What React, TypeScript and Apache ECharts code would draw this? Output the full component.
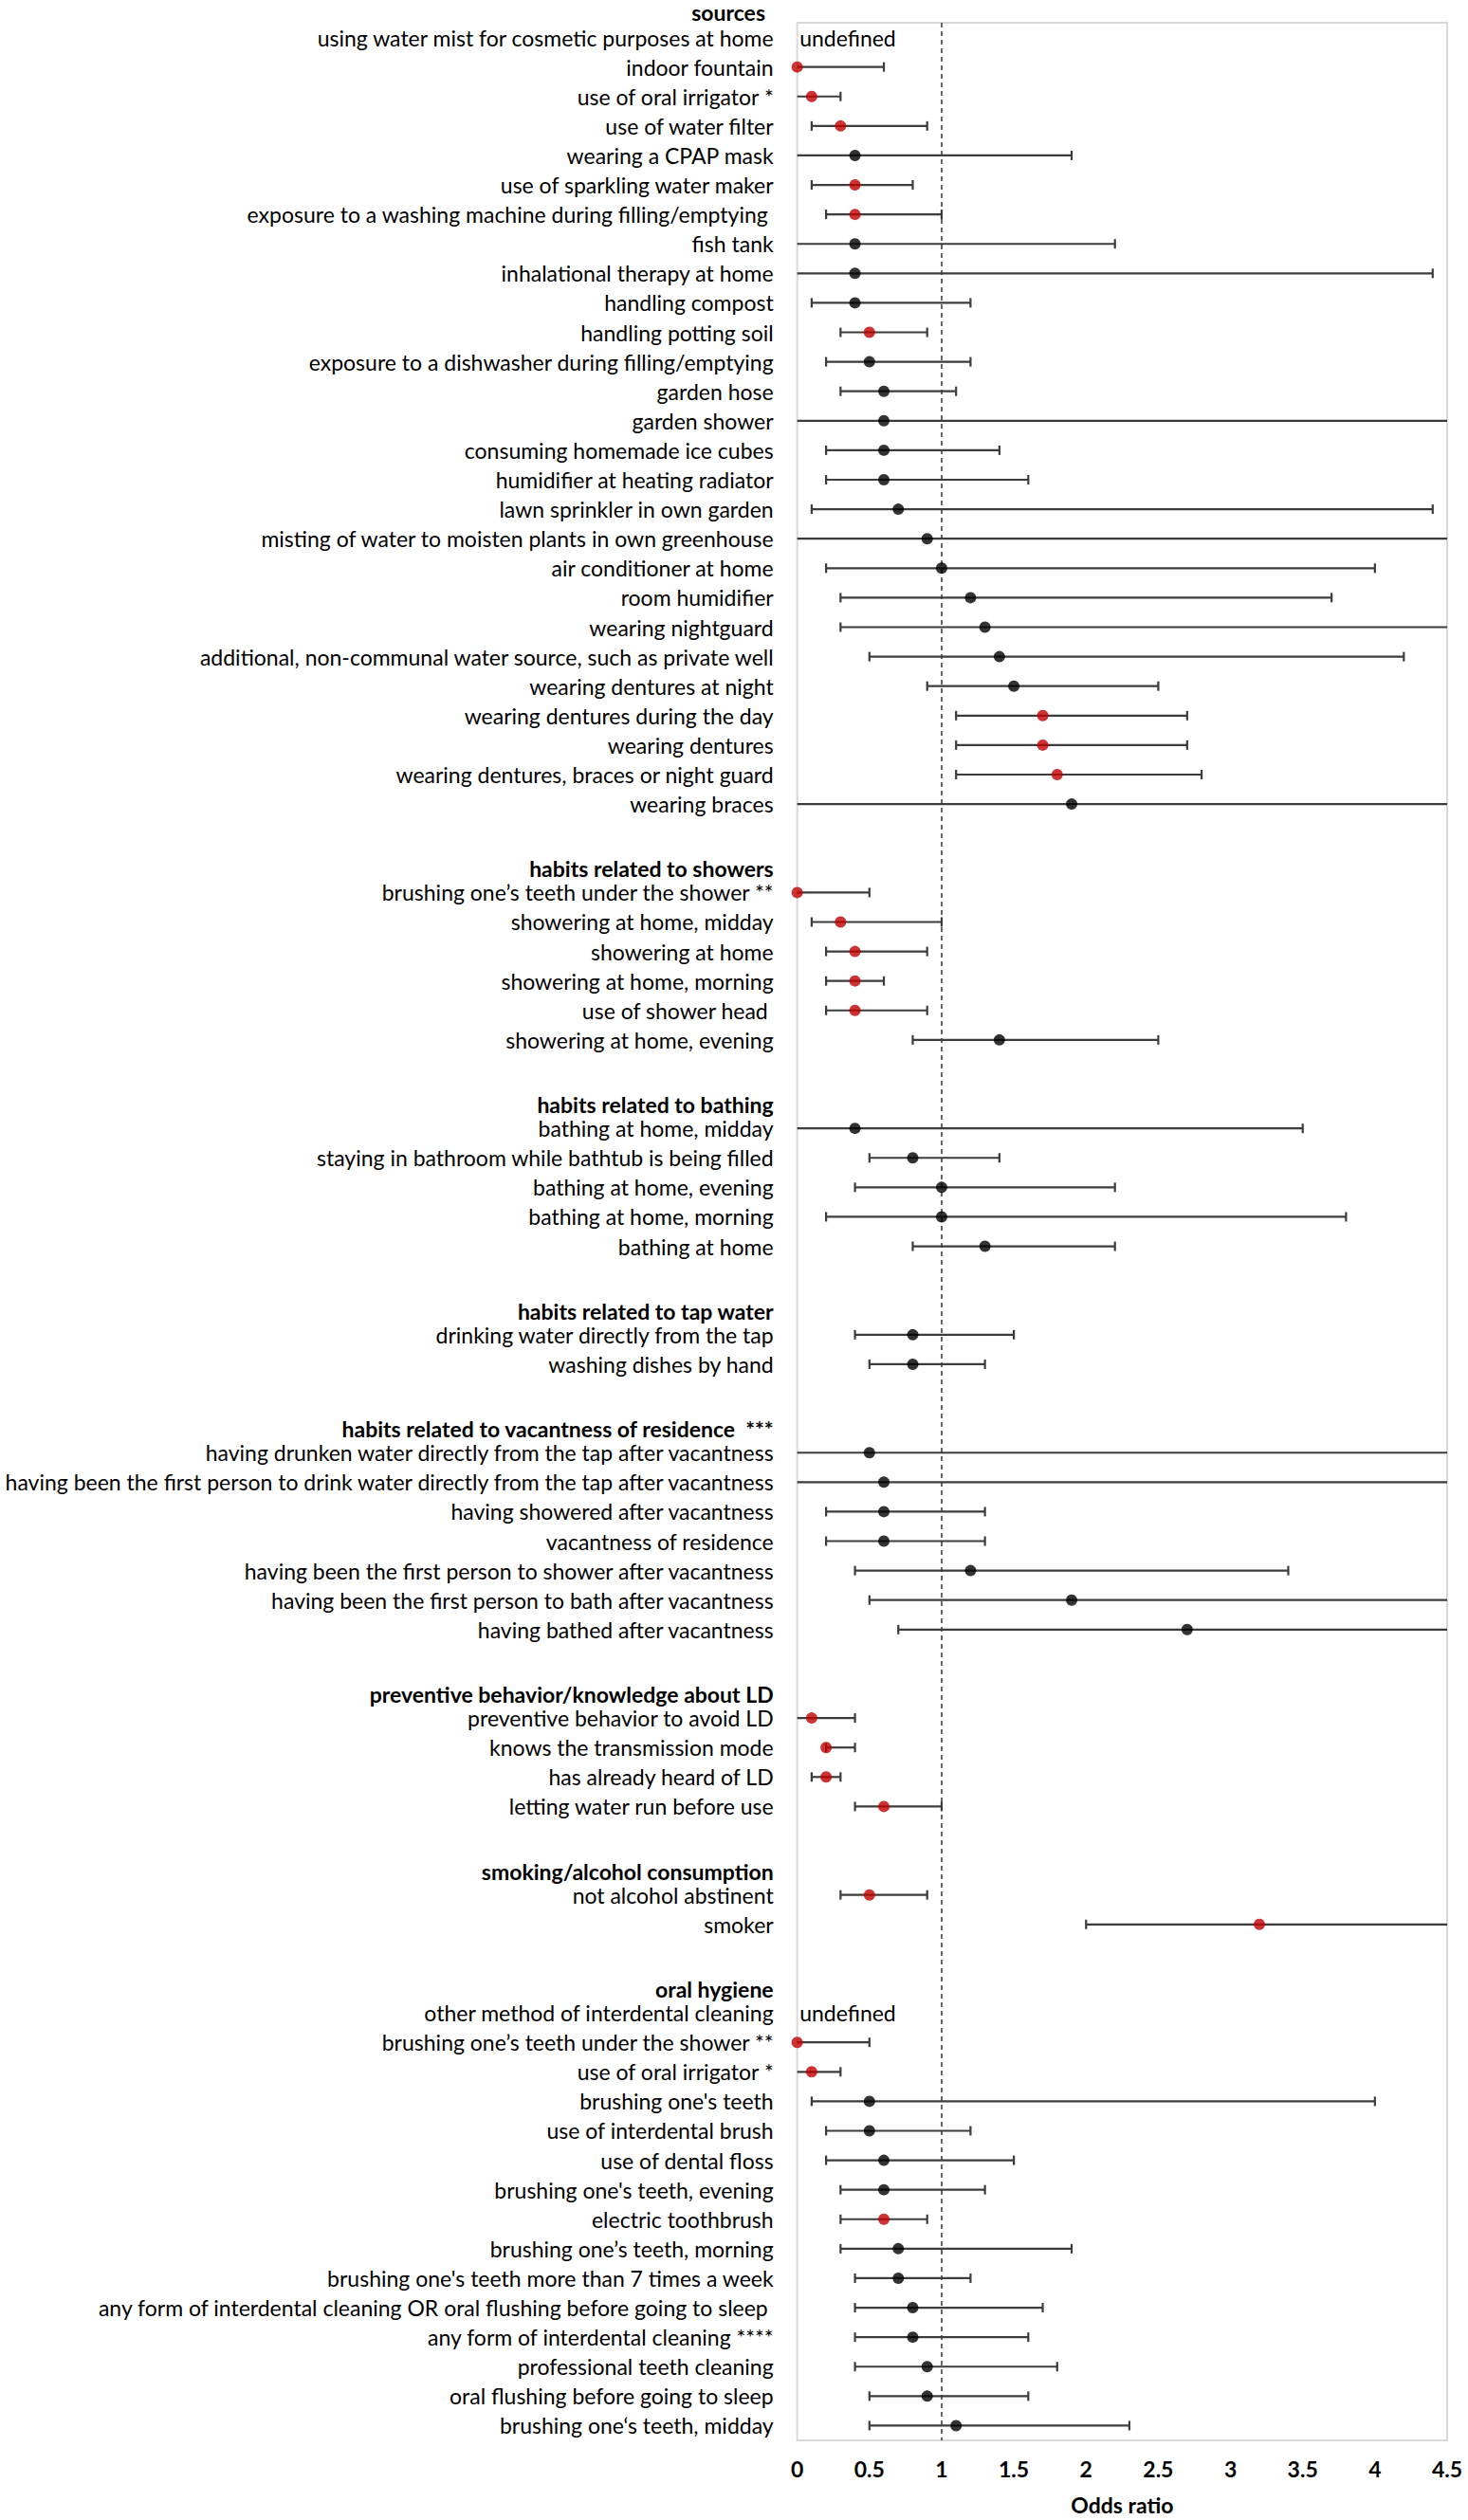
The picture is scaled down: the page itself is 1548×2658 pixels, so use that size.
import React, { useEffect, useRef } from "react";
import * as echarts from "echarts";

// ---- data (rows from top to bottom) ----
const categories: string[] = [
  "using water mist for cosmetic purposes at home",
  "indoor fountain",
  "use of oral irrigator *",
  "use of water filter",
  "wearing a CPAP mask",
  "use of sparkling water maker",
  "exposure to a washing machine during filling/emptying ",
  "fish tank",
  "inhalational therapy at home",
  "handling compost",
  "handling potting soil",
  "exposure to a dishwasher during filling/emptying",
  "garden hose",
  "garden shower",
  "consuming homemade ice cubes",
  "humidifier at heating radiator",
  "lawn sprinkler in own garden",
  "misting of water to moisten plants in own greenhouse",
  "air conditioner at home",
  "room humidifier",
  "wearing nightguard",
  "additional, non-communal water source, such as private well",
  "wearing dentures at night",
  "wearing dentures during the day",
  "wearing dentures",
  "wearing dentures, braces or night guard",
  "wearing braces",
  "",
  "habits related to showers",
  "brushing one\u2019s teeth under the shower **",
  "showering at home, midday",
  "showering at home",
  "showering at home, morning",
  "use of shower head ",
  "showering at home, evening",
  "",
  "habits related to bathing",
  "bathing at home, midday",
  "staying in bathroom while bathtub is being filled",
  "bathing at home, evening",
  "bathing at home, morning",
  "bathing at home",
  "",
  "habits related to tap water",
  "drinking water directly from the tap",
  "washing dishes by hand",
  "",
  "habits related to vacantness of residence  ***",
  "having drunken water directly from the tap after vacantness",
  "having been the first person to drink water directly from the tap after vacantness",
  "having showered after vacantness",
  "vacantness of residence",
  "having been the first person to shower after vacantness",
  "having been the first person to bath after vacantness",
  "having bathed after vacantness",
  "",
  "preventive behavior/knowledge about LD",
  "preventive behavior to avoid LD",
  "knows the transmission mode",
  "has already heard of LD",
  "letting water run before use",
  "",
  "smoking/alcohol consumption",
  "not alcohol abstinent",
  "smoker",
  "",
  "oral hygiene",
  "other method of interdental cleaning",
  "brushing one\u2019s teeth under the shower **",
  "use of oral irrigator *",
  "brushing one's teeth",
  "use of interdental brush",
  "use of dental floss",
  "brushing one's teeth, evening",
  "electric toothbrush",
  "brushing one\u2019s teeth, morning",
  "brushing one's teeth more than 7 times a week",
  "any form of interdental cleaning OR oral flushing before going to sleep ",
  "any form of interdental cleaning ****",
  "professional teeth cleaning",
  "oral flushing before going to sleep",
  "brushing one\u2018s teeth, midday",
];

const topHeader = "sources";

const groupHeaders: string[] = [
  "habits related to showers",
  "habits related to bathing",
  "habits related to tap water",
  "habits related to vacantness of residence  ***",
  "preventive behavior/knowledge about LD",
  "smoking/alcohol consumption",
  "oral hygiene",
];

const undefinedRows: string[] = [
  "using water mist for cosmetic purposes at home",
  "other method of interdental cleaning",
];

// odds ratio per row (null: header / blank / undefined)
const oddsRatio: (number | null)[] = [
  null, 0, 0.1, 0.3, 0.4, 0.4, 0.4, 0.4, 0.4, 0.4, 0.5, 0.5, 0.6, 0.6, 0.6, 0.6, 0.7, 0.9, 1.0, 1.2, 1.3, 1.4, 1.5, 1.7, 1.7, 1.8, 1.9,
  null, null, 0, 0.3, 0.4, 0.4, 0.4, 1.4,
  null, null, 0.4, 0.8, 1.0, 1.0, 1.3,
  null, null, 0.8, 0.8,
  null, null, 0.5, 0.6, 0.6, 0.6, 1.2, 1.9, 2.7,
  null, null, 0.1, 0.2, 0.2, 0.6,
  null, null, 0.5, 3.2,
  null, null, null, 0, 0.1, 0.5, 0.5, 0.6, 0.6, 0.6, 0.7, 0.7, 0.8, 0.8, 0.9, 0.9, 1.1,
];

// lower 95% CI
const ciLower: (number | null)[] = [
  null, 0, 0, 0.1, 0, 0.1, 0.2, 0, 0, 0.1, 0.3, 0.2, 0.3, 0, 0.2, 0.2, 0.1, 0, 0.2, 0.3, 0.3, 0.5, 0.9, 1.1, 1.1, 1.1, 0,
  null, null, 0, 0.1, 0.2, 0.2, 0.2, 0.8,
  null, null, 0, 0.5, 0.4, 0.2, 0.8,
  null, null, 0.4, 0.5,
  null, null, 0, 0, 0.2, 0.2, 0.4, 0.5, 0.7,
  null, null, 0, 0.2, 0.1, 0.4,
  null, null, 0.3, 2.0,
  null, null, null, 0, 0, 0.1, 0.2, 0.2, 0.3, 0.3, 0.3, 0.4, 0.4, 0.4, 0.4, 0.5, 0.5,
];

// upper 95% CI (values above 4.5 run off the right edge of the chart)
const ciUpper: (number | null)[] = [
  null, 0.6, 0.3, 0.9, 1.9, 0.8, 1.0, 2.2, 4.4, 1.2, 0.9, 1.2, 1.1, 5.0, 1.4, 1.6, 4.4, 5.0, 4.0, 3.7, 5.0, 4.2, 2.5, 2.7, 2.7, 2.8, 5.0,
  null, null, 0.5, 1.0, 0.9, 0.6, 0.9, 2.5,
  null, null, 3.5, 1.4, 2.2, 3.8, 2.2,
  null, null, 1.5, 1.3,
  null, null, 5.0, 5.0, 1.3, 1.3, 3.4, 5.0, 5.0,
  null, null, 0.4, 0.4, 0.3, 1.0,
  null, null, 0.9, 5.0,
  null, null, null, 0.5, 0.3, 4.0, 1.2, 1.5, 1.3, 0.9, 1.9, 1.2, 1.7, 1.6, 1.8, 1.6, 2.3,
];

// 1 = statistically significant (red marker), 0 = not significant (black marker)
const significant: number[] = [
  0, 1, 1, 1, 0, 1, 1, 0, 0, 0, 1, 0, 0, 0, 0, 0, 0, 0, 0, 0, 0, 0, 0, 1, 1, 1, 0,
  0, 0, 1, 1, 1, 1, 1, 0,
  0, 0, 0, 0, 0, 0, 0,
  0, 0, 0, 0,
  0, 0, 0, 0, 0, 0, 0, 0, 0,
  0, 0, 1, 1, 1, 1,
  0, 0, 1, 1,
  0, 0, 0, 1, 1, 0, 0, 0, 0, 1, 0, 0, 0, 0, 0, 0, 0,
];

const xTicks = { min: 0, max: 4.5, interval: 0.5 };
const referenceLine = 1;

const FONT = "Lato";

export default function App() {
  const ref = useRef<HTMLDivElement>(null);

  useEffect(() => {
    if (!ref.current) return;
    const chart = echarts.init(ref.current, undefined, { renderer: "svg" });

    const headerSet = new Set(groupHeaders);
    const redPts: number[][] = [];
    const blackPts: number[][] = [];
    const bars: number[][] = [];
    const undefPts: number[][] = [];
    categories.forEach((name, i) => {
      const or = oddsRatio[i];
      const lo = ciLower[i];
      const hi = ciUpper[i];
      if (lo != null && hi != null) bars.push([lo, hi, i]);
      if (or != null) (significant[i] ? redPts : blackPts).push([or, i]);
      if (undefinedRows.includes(name)) undefPts.push([0, i]);
    });

    const xMax = xTicks.max;
    const xMin = xTicks.min;

    const option: any = {
      animation: false,
      grid: {
        left: 832,
        right: 22,
        top: 24,
        bottom: 81,
        show: true,
        borderColor: "#d9d9d9",
        borderWidth: 2,
        backgroundColor: "transparent",
      },
      graphic: [
        {
          type: "text",
          x: 807,
          y: 13,
          style: {
            text: topHeader,
            align: "right",
            verticalAlign: "middle",
            fontSize: 23,
            fontWeight: "bold",
            fontFamily: FONT,
            fill: "#000",
          },
        },
      ],
      xAxis: {
        type: "value",
        min: xTicks.min,
        max: xTicks.max,
        interval: xTicks.interval,
        splitLine: { show: false },
        axisLine: { show: false },
        axisTick: { show: false },
        axisLabel: {
          fontSize: 23,
          fontWeight: "bold",
          fontFamily: FONT,
          color: "#000",
          margin: 18,
        },
        name: "Odds ratio",
        nameLocation: "middle",
        nameGap: 56,
        nameTextStyle: {
          fontSize: 23,
          fontWeight: "bold",
          fontFamily: FONT,
          color: "#000",
        },
      },
      yAxis: {
        type: "category",
        data: categories,
        inverse: true,
        boundaryGap: true,
        axisLine: { show: false },
        axisTick: { show: false },
        splitLine: { show: false },
        axisLabel: {
          interval: 0,
          margin: 25,
          fontSize: 23,
          fontFamily: FONT,
          color: "#000",
          formatter: (v: string) => (headerSet.has(v) ? `{h|${v}}` : v),
          rich: {
            h: {
              fontSize: 23,
              fontWeight: "bold",
              fontFamily: FONT,
              color: "#000",
              padding: [12, 0, 0, 0],
            },
          },
        },
      },
      series: [
        {
          type: "custom",
          name: "95% CI",
          data: bars,
          encode: { x: [0, 1], y: 2 },
          z: 2,
          renderItem: (params: any, api: any) => {
            const lo = api.value(0);
            const hi = api.value(1);
            const row = api.value(2);
            const loC = Math.max(xMin, Math.min(xMax, lo));
            const hiC = Math.max(xMin, Math.min(xMax, hi));
            const p1 = api.coord([loC, row]);
            const p2 = api.coord([hiC, row]);
            const style = { stroke: "#3c3c3c", lineWidth: 2.2 };
            const capH = 5;
            const children: any[] = [
              {
                type: "line",
                shape: { x1: p1[0], y1: p1[1], x2: p2[0], y2: p2[1] },
                style,
              },
            ];
            if (lo > xMin && lo <= xMax) {
              children.push({
                type: "line",
                shape: { x1: p1[0], y1: p1[1] - capH, x2: p1[0], y2: p1[1] + capH },
                style,
              });
            }
            if (hi > xMin && hi <= xMax) {
              children.push({
                type: "line",
                shape: { x1: p2[0], y1: p2[1] - capH, x2: p2[0], y2: p2[1] + capH },
                style,
              });
            }
            return { type: "group", children };
          },
        },
        {
          type: "scatter",
          name: "not significant",
          data: blackPts,
          symbol: "circle",
          symbolSize: 12,
          itemStyle: { color: "#000000" },
          z: 4,
          markLine: {
            silent: true,
            symbol: "none",
            label: { show: false },
            lineStyle: { type: [5, 4], color: "#333333", width: 1.5 },
            data: [{ xAxis: referenceLine }],
            z: 1,
          },
        },
        {
          type: "scatter",
          name: "significant",
          data: redPts,
          symbol: "circle",
          symbolSize: 12,
          itemStyle: { color: "#C00000" },
          z: 4,
        },
        {
          type: "scatter",
          name: "undefined",
          data: undefPts,
          symbol: "circle",
          symbolSize: 1,
          itemStyle: { color: "#ffffff", opacity: 1 },
          z: 5,
          label: {
            show: true,
            position: "right",
            distance: 2,
            formatter: "undefined",
            fontSize: 23,
            fontFamily: FONT,
            color: "#000000",
            opacity: 1,
          },
        },
      ],
    };

    chart.setOption(option);
    return () => chart.dispose();
  }, []);

  return (
    <div
      ref={ref}
      style={{ position: "absolute", left: 0, top: 0, width: 1548, height: 2658, background: "#fff" }}
    />
  );
}
